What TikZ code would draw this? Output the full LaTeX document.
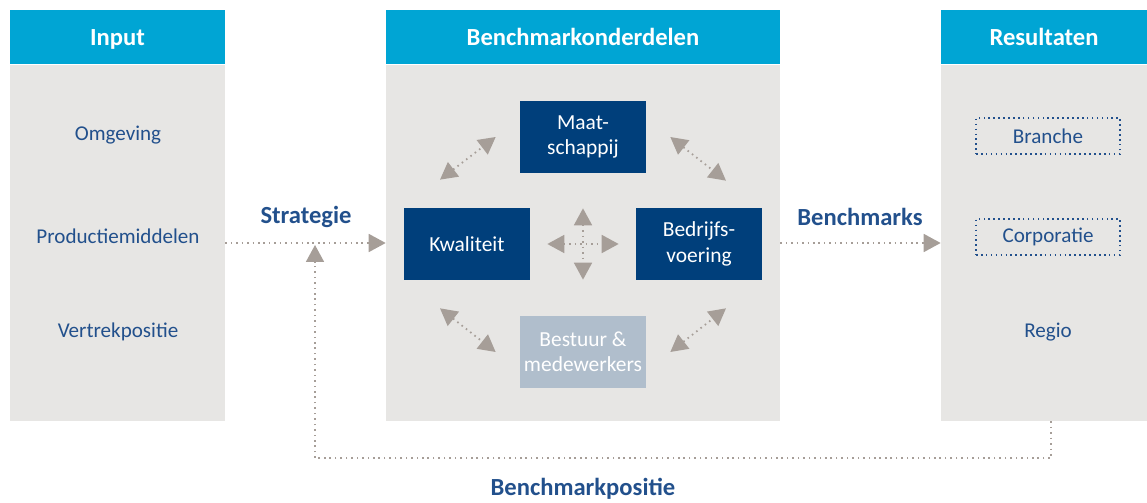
\documentclass[tikz,border=0pt]{standalone}
\usepackage{fontspec}
\setmainfont{Carlito}
\usetikzlibrary{positioning, calc, arrows.meta}

\definecolor{headblue}{HTML}{00A5D4}
\definecolor{panelgray}{HTML}{E7E6E4}
\definecolor{navy}{HTML}{003F7B}
\definecolor{paleblue}{HTML}{B0BECC}
\definecolor{textblue}{HTML}{22508C}
\definecolor{tipgray}{HTML}{A69E98}

\begin{document}
\begin{tikzpicture}[
    x=0.02cm, y=-0.02cm,
    panel/.style={fill=panelgray, draw=none, inner sep=0pt},
    header/.style={fill=headblue, draw=none, inner sep=0pt, minimum height=1.08cm, text depth=0pt, text=white, font=\fontsize{14}{16}\selectfont\bfseries},
    part/.style={fill=navy, minimum width=2.52cm, minimum height=1.44cm, align=center, text=white, font=\fontsize{12.2}{14.5}\selectfont, inner sep=0pt},
    item/.style={text=textblue, font=\fontsize{12}{14}\selectfont},
    result/.style={item, draw=textblue, line width=1pt, dash pattern=on 0.9pt off 1.9pt, minimum width=2.88cm, minimum height=0.72cm},
    flowlabel/.style={text=textblue, font=\fontsize{14}{16}\selectfont\bfseries},
    link/.style={draw=tipgray, line width=1pt, dash pattern=on 0.9pt off 2.2pt, {Triangle[length=0.34cm, width=0.36cm, fill=tipgray]}-{Triangle[length=0.34cm, width=0.36cm, fill=tipgray]}},
    flow/.style={draw=tipgray, line width=1pt, dash pattern=on 0.9pt off 2.2pt, -{Triangle[length=0.34cm, width=0.36cm, fill=tipgray]}}
]
    \useasboundingbox (0,0) rectangle (1147,503);

    % Panels
    \node[panel, minimum width=4.30cm, minimum height=7.12cm] (input) at (117.5,243) {};
    \node[panel, minimum width=7.88cm, minimum height=7.12cm] (onderdelen) at (583,243) {};
    \node[panel, minimum width=4.12cm, minimum height=7.12cm] (resultaten) at (1044,243) {};

    % Headers
    \node[header, minimum width=4.30cm, anchor=south] (inputkop) at (input.north) {Input};
    \node[header, minimum width=7.88cm, anchor=south] (onderdelenkop) at (onderdelen.north) {Benchmarkonderdelen};
    \node[header, minimum width=4.12cm, anchor=south] (resultatenkop) at (resultaten.north) {Resultaten};

    % Input
    \node[item] (omgeving) at (118,135) {Omgeving};
    \node[item] (productie) at (118,236) {Productiemiddelen};
    \node[item] (vertrek) at (118,332) {Vertrekpositie};

    % Benchmarkonderdelen
    \node[part] (maat) at (583,137) {Maat-\\schappij};
    \node[part] (kwal) at (467,244) {Kwaliteit};
    \node[part] (bedr) at (699,244) {Bedrijfs-\\voering};
    \node[part, fill=paleblue] (best) at (583,352) {Bestuur \&\\medewerkers};

    % Resultaten
    \node[result] (branche) at (1048,136) {Branche};
    \node[result] (corporatie) at (1048,237) {Corporatie};
    \node[item] (regio) at (1048,332) {Regio};

    % Relations between the parts
    \draw[link] ([shift={(-27,-28)}]kwal.north) -- ([shift={(-24,0)}]maat.west);
    \draw[link] ([shift={(24,0)}]maat.east) -- ([shift={(27,-27)}]bedr.north);
    \draw[link] ([shift={(-27,28)}]kwal.south) -- ([shift={(-24,0)}]best.west);
    \draw[link] ([shift={(24,0)}]best.east) -- ([shift={(27,28)}]bedr.south);
    \draw[link] ([shift={(17,0)}]kwal.east) -- ([shift={(-17,0)}]bedr.west);
    \draw[link] ([shift={(0,35)}]maat.south) -- ([shift={(0,-36)}]best.north);

    % Flows
    \draw[flow] (input.east) -- (onderdelen.west);
    \draw[flow] (onderdelen.east) -- (resultaten.west);
    \node[flowlabel] (strategie) at (306,217) {Strategie};
    \node[flowlabel] (benchmarks) at (860,217) {Benchmarks};

    % Feedback
    \coordinate (terug) at (315,245);
    \draw[flow] ([xshift=4]resultaten.south) -- ++(0,37) -| (terug);
    \node[flowlabel] (positie) at (583,489) {Benchmarkpositie};
\end{tikzpicture}
\end{document}
